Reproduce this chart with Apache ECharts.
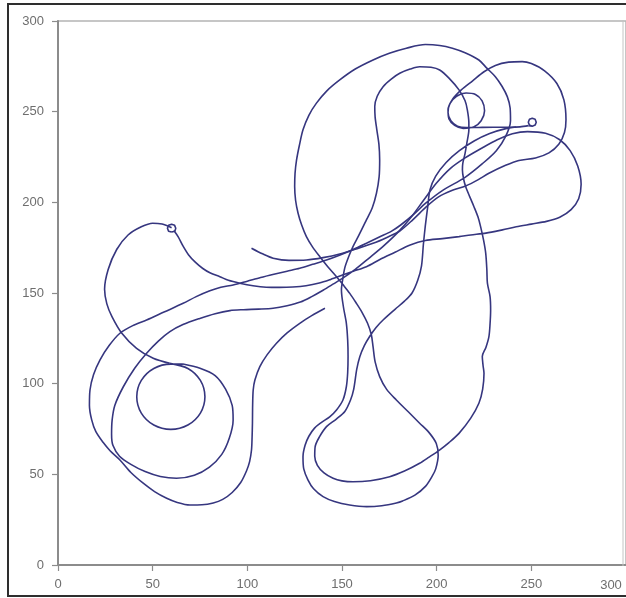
<!DOCTYPE html>
<html>
<head>
<meta charset="utf-8">
<script src="https://cdn.jsdelivr.net/npm/echarts@6/dist/echarts.min.js"></script>
<style>
html,body{margin:0;padding:0;background:#fff;}
#c{width:626px;height:598px;}
</style>
</head>
<body>
<div id="c"></div>
<script>
// ---- tick labels ----
const xTicks = [0, 50, 100, 150, 200, 250, 300];
const yTicks = [0, 50, 100, 150, 200, 250, 300];

// ---- trajectory pieces (x, y) ----
const startMarker = [[60,183.6],[61.7,184.1],[62.2,185.7],[61.6,187.3],[60,187.9],[58.4,187.3],[57.8,185.7],[58.4,184.1],[60,183.6]];

const startArc = [[60,186],[55,188],[50,188.5],[44,186.5],[37,182],[31,174],[26.5,163],[24.6,152],[25.8,144],[28.5,137],[33.6,128],[41.5,119.5],[50.3,114],[59,111.2]];

const innerCircle = [[59,111.2],[68.6,108.4],[75.2,101.8],[77.6,92.8],[75.2,83.8],[68.6,77.2],[59.6,74.8],[50.6,77.2],[44,83.8],[41.6,92.8],[44,101.8],[50.6,108.4],[59.6,110.8],[66,110.8]];

const ringAndLobe = [[66,110.8],[75,108.5],[83,104.5],[88.5,97],[92,88],[92.5,80],[90.5,70],[86.5,61],[80,54],[72,49.5],[62.6,47.8],[54,48.8],[46,51.5],[38.5,55.5],[32.5,60],[29,66],[28.3,72],[28.6,80],[30,88],[34.5,98.3],[40.5,108.5],[46.8,116.8],[53,123.5],[59.1,128.7],[66,132.6],[74.9,136],[83,138.6],[90.8,140.3],[98,140.8],[106,141.1],[113.6,141.6],[121,143],[128,145],[134,148],[140,151.5],[145.5,155],[150.6,158.3],[157,163],[164,169],[172,176],[180,184],[187,192.5],[193,201],[199.8,210.5],[207,218.5],[215,224.5],[224,230],[232,234.5],[240,237.8],[248,239],[257.5,238.1],[265,234.5],[270.5,228.5],[274.5,220],[276.3,210],[275,202],[271,196],[265,191.8],[258,189.5],[250,188],[242,186.5],[234.7,184.8],[226,183],[218,182],[211.8,181.1],[203,180],[194,179],[186,176.5],[178,172.5],[170,168.5],[162.9,164.5],[156,162],[150.6,160],[144,157.5],[138,155.5],[131,154],[124,153.3],[117,153.1],[110,153.2],[103,154],[96,155.4],[90,157],[85.5,159],[80.5,161],[76.5,163.5],[72.5,167],[69,171],[66,176],[63.5,181],[61.2,184.5]];

const longPath = [[141,141.6],[134,137.5],[127.7,133.3],[121,128],[115.4,122.3],[110.5,116],[106.6,109.4],[104,102],[103.1,96.5],[102.8,88],[102.7,78.2],[102.5,70],[102.2,63.4],[101.2,57],[99.6,52],[96.5,45.5],[92,40],[87,36.2],[82,34.2],[76,33.2],[69.7,33.1],[63,34.5],[57.4,36.8],[51,40.5],[45,45.1],[38.5,51],[32.7,57.9],[27.5,63],[23.9,67.5],[20,73.5],[17.8,80],[16.6,88],[16.9,96.5],[18.8,105],[22.2,113.1],[27,121],[32.7,127.8],[39.5,132],[46.8,135.1],[56,139.5],[66.1,144.3],[73,148],[80.2,151.2],[86,153.2],[92.5,154.4],[100,156.5],[107,158.5],[114,160.3],[121,162],[127.7,163.6],[134.5,165.8],[141.8,168.2],[149,171],[156,174],[162.9,177.4],[170,181],[176,184],[181,187.5],[188,193.5],[194.2,199.5],[203,206.5],[215,213.8],[224,221.2],[231.5,228.5],[236.5,236.5],[239,245],[238.8,252],[237.3,258.3],[234.5,264],[231,269.3],[226.5,274],[222.3,278.5],[215,282.5],[208.3,285],[201.6,286.5],[194,287],[184,285],[175,282.2],[166.4,278.5],[157,273.5],[148.8,267.5],[142,261.5],[136.5,254.7],[132.5,248],[129.4,240],[127.5,231.5],[126,223.4],[125.2,216],[125,208.7],[125.5,201],[126.8,194],[128.7,187.5],[131.2,181.1],[134.5,175.3],[138.3,170],[142.5,164.5],[147.1,159],[150.6,154.5],[154.1,149.8],[157.5,144.5],[160.5,139.5],[163.5,133.3],[165.5,127],[166.4,120.4],[167.5,112],[169.9,103.9],[173.5,97],[178.7,91],[185,84.5],[191,78.2],[196,73],[199.8,67],[200.8,60.5],[199.5,53],[197.5,48.7],[194.2,43.5],[188.5,38.5],[182,35.3],[178.7,34.2],[171,32.7],[163,32.2],[154,33.1],[146,35],[140,37.7],[135,42],[132,47],[129.8,53],[129.4,59.7],[130.5,66],[132.5,71],[135.5,75.5],[139,78.5],[143.5,81.7],[147.1,85.5],[150.5,91],[152.3,98.3],[153,106],[153.2,115],[153,124],[152.3,133.3],[150.8,142],[149.7,151.7],[150.3,157],[151.5,164],[153.5,170],[155.8,175.6],[159,182],[162.9,190.3],[166,197],[168.2,205],[169.6,214],[169.9,223.4],[169.5,232],[168.4,240],[167.5,247],[167.3,252.8],[168.6,258.5],[171.7,263.8],[176,268],[180.5,271.2],[186,273.5],[191,274.8],[197,274.5],[201.6,273],[206.5,268.5],[211.8,262],[215,256],[216.2,251],[217,244],[217,240],[216,233],[215,227],[213.8,221.5],[213.6,218],[214.2,213],[215.3,208.7],[217.5,203],[219.7,197.6],[221.8,192],[223.2,186.6],[224.8,179],[225.9,172],[226.5,163],[226.8,155.4],[228.2,148],[228.5,140.6],[228.2,133],[227.6,126],[226,120],[224.1,115],[224.5,110],[225,105.7],[224.3,97],[222.3,89.2],[218,81],[211.8,72.6],[206.5,67.5],[201.5,63.4],[196,59.5],[191,56.1],[183,51.8],[175.2,48.7],[165,46.5],[155.8,45.9],[150,46.4],[145.3,47.8],[140.5,50.8],[137,55],[135.6,60],[135.8,65.2],[138,70.5],[141.8,76.3],[147,80.5],[151.5,84.7],[154.5,91],[156.2,97],[157.8,108],[159.4,114.9],[161.8,121],[164.6,126],[168,131],[171.7,135.1],[178,141],[183,145.5],[187,150],[190,157],[192,165],[193,177],[194,187],[195.2,197],[196.5,207],[199.5,214.5],[205,222],[212,228.5],[220,234],[228,238],[236,240.5],[242,241.5]];

const tailPath = [[102.2,174.7],[108,171.6],[113.6,169.2],[122,168],[131.2,168.2],[140,169.5],[148.8,171.5],[157,174.2],[166.4,177.4],[174,180.8],[180.5,184.2],[187.5,190.5],[194.6,197.6],[201,203],[208,206.5],[215.3,209],[222,212.5],[227.6,216],[236.4,220.4],[243.4,223.1],[252.2,224.5],[259.3,227.3],[264.5,232],[267.5,238.5],[268.3,245.5],[267.2,256.5],[263.5,265.5],[257,272.5],[250,276.5],[245.2,277.6],[238,277.3],[231,275.5],[225,272],[219,267],[213,262],[208.5,257],[206,251],[206.5,246],[209.5,242.5],[214,240.8],[219.5,241.5],[223.5,245],[225.3,250.5],[224,256],[220.5,259.5],[215.5,260.3],[210.5,258.5],[207,254.5],[206,249.5],[207.5,245],[211,242],[215.7,241.2],[222,241.3],[230,241.4],[238.5,241.4],[244,241.6],[248.5,242.3]];

const endMarker = [[248.5,242.3],[250.5,242],[252,242.6],[252.6,244.2],[252,245.8],[250.5,246.4],[249,245.8],[248.4,244.2],[249,242.6],[250.5,242]];

const pieces = [startMarker, startArc, innerCircle, ringAndLobe, longPath, tailPath, endMarker];
const smoothness = [0, 0.3, 0.3, 0.3, 0.3, 0.3, 0];

const chart = echarts.init(document.getElementById('c'), null, {renderer: 'canvas'});
const lineColor = '#36367f';
const axisCol = '#8c8c8c';
const labelCol = '#6e6e6e';
const font = '"Liberation Sans", Arial, sans-serif';

const axisCommon = {
  type: 'value', min: xTicks[0], max: xTicks[xTicks.length - 1], interval: 50,
  axisLine: {show: true, onZero: false, lineStyle: {color: axisCol, width: 2}},
  axisTick: {show: true, length: 6, lineStyle: {color: axisCol, width: 1.2}},
  splitLine: {show: false},
  axisLabel: {color: labelCol, fontSize: 13, fontFamily: font}
};

chart.setOption({
  animation: false,
  backgroundColor: '#fff',
  grid: {left: 58, top: 21, width: 569, height: 544, show: true, borderColor: '#b4b4b4', borderWidth: 1.5},
  xAxis: Object.assign({}, axisCommon, {
    axisLabel: Object.assign({}, axisCommon.axisLabel, {margin: 13, showMaxLabel: false})
  }),
  yAxis: Object.assign({}, axisCommon, {
    min: yTicks[0], max: yTicks[yTicks.length - 1],
    axisLabel: Object.assign({}, axisCommon.axisLabel, {margin: 14})
  }),
  graphic: [
    {type: 'rect', silent: true, z: 100, shape: {x: 8, y: 4, width: 660, height: 592},
     style: {fill: 'none', stroke: '#2e2e2e', lineWidth: 2}},
    {type: 'line', silent: true, z: 100, shape: {x1: 623, y1: 20, x2: 623, y2: 566},
     style: {stroke: '#c4c4c4', lineWidth: 1}},
    {type: 'text', silent: true, z: 100, x: 611, y: 585,
     style: {text: String(xTicks[xTicks.length - 1]), fill: labelCol, font: '13px ' + font, textAlign: 'center', textVerticalAlign: 'middle'}}
  ],
  series: pieces.map((p, i) => ({
    type: 'line', data: p, showSymbol: false, symbol: 'none', smooth: smoothness[i],
    lineStyle: {color: lineColor, width: 1.6}, clip: true, z: 2
  }))
});
</script>
</body>
</html>
